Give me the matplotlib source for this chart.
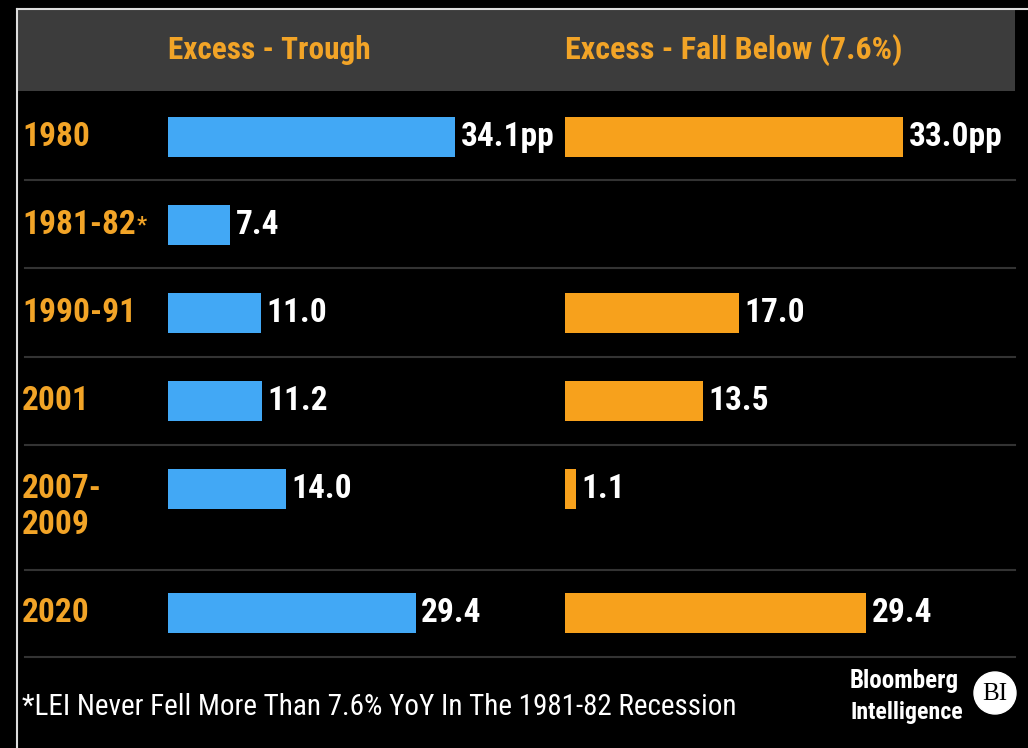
import matplotlib
matplotlib.use('Agg')
from matplotlib import pyplot as plt
from matplotlib import font_manager
from matplotlib.patches import Rectangle, Circle

periods = ['1980', '1981-82*', '1990-91', '2001', '2007-\n2009', '2020']
excess_trough = [34.1, 7.4, 11.0, 11.2, 14.0, 29.4]
excess_fall = [33.0, None, 17.0, 13.5, 1.1, 29.4]
trough_labels = ['34.1pp', '7.4', '11.0', '11.2', '14.0', '29.4']
fall_labels = ['33.0pp', '', '17.0', '13.5', '1.1', '29.4']
headers = ['Excess - Trough', 'Excess - Fall Below (7.6%)']
footnote = '*LEI Never Fell More Than 7.6% YoY In The 1981-82 Recession'

W, H = 1028, 748
BLUE = '#42a8f5'
ORANGE = '#f7a11c'
LABEL = '#f2a427'
HEADER_BG = '#3c3c3c'
GRID = '#333333'

names = {f.name for f in font_manager.fontManager.ttflist}
FONT = 'DejaVu Sans'
for cand in ['Roboto Condensed', 'Liberation Sans Narrow', 'DejaVu Sans Condensed']:
    if cand in names:
        FONT = cand
        break
plt.rcParams['font.family'] = [FONT, 'DejaVu Sans']

# row layout in pixels (top, bottom)
rows = [(92, 180), (180, 268), (268, 357), (357, 445), (445, 570), (570, 657)]
bar_centers = [137, 225, 313, 401, 489, 613]

fig = plt.figure(figsize=(W / 100, H / 100), dpi=100, facecolor='black')
bg = fig.add_axes([0, 0, 1, 1])
bg.set_xlim(0, W)
bg.set_ylim(H, 0)
bg.axis('off')

# frame and header band
bg.plot([17, W], [9, 9], color='#dddddd', lw=1.5)
bg.plot([17, 17], [9, H], color='#dddddd', lw=1.5)
bg.add_patch(Rectangle((18, 10), 997, 81, color=HEADER_BG, lw=0))
bg.text(168, 50, headers[0], color=LABEL, fontsize=22.5, fontweight='bold', va='center')
bg.text(565, 50, headers[1], color=LABEL, fontsize=23, fontweight='bold', va='center')

for top, bottom in rows:
    bg.plot([25, 1015], [bottom, bottom], color=GRID, lw=1.5)

for p, yc in zip(periods, bar_centers):
    if '\n' in p:
        a, b = p.split('\n')
        bg.text(22, yc, a, color=LABEL, fontsize=24, fontweight='bold', va='center')
        bg.text(22, yc + 36, b, color=LABEL, fontsize=24, fontweight='bold', va='center')
    elif p.endswith('*'):
        t = bg.text(22, yc, p[:-1], color=LABEL, fontsize=24, fontweight='bold', va='center')
        bg.annotate('*', xycoords=t, xy=(1, 0.5), xytext=(1, 0), textcoords='offset points',
                    color=LABEL, fontsize=16, fontweight='bold', va='center')
    else:
        bg.text(22, yc, p, color=LABEL, fontsize=24, fontweight='bold', va='center')

# footer
bg.text(22, 707, footnote, color='white', fontsize=21, va='center')
bg.text(850, 681, 'Bloomberg', color='white', fontsize=18, fontweight='bold', va='center')
bg.text(850, 713, 'Intelligence', color='white', fontsize=17.2, fontweight='bold', va='center')
bg.add_patch(Circle((995, 693), 21, color='white'))
bg.text(995, 694, 'BI', color='black', fontsize=18, family='Liberation Serif',
        ha='center', va='center')


def bar_panel(x0, x1, px_per_unit, values, labels, color):
    ax = fig.add_axes([x0 / W, 1 - 657 / H, (x1 - x0) / W, (657 - 92) / H])
    ax.set_xlim(0, (x1 - x0) / px_per_unit)
    ax.set_ylim(657, 92)
    ax.axis('off')
    ys = [y for y, v in zip(bar_centers, values) if v is not None]
    vs = [v for v in values if v is not None]
    ls = [l for l, v in zip(labels, values) if v is not None]
    ax.barh(ys, vs, height=40, color=color)
    for y, v, l in zip(ys, vs, ls):
        ax.annotate(l, xy=(v, y), xytext=(4, 0), textcoords='offset points',
                    color='white', fontsize=24, fontweight='bold', va='center')


bar_panel(168, 560, 8.42, excess_trough, trough_labels, BLUE)
bar_panel(565, 1015, 10.24, excess_fall, fall_labels, ORANGE)

plt.savefig('out.png', dpi=100, facecolor='black')
